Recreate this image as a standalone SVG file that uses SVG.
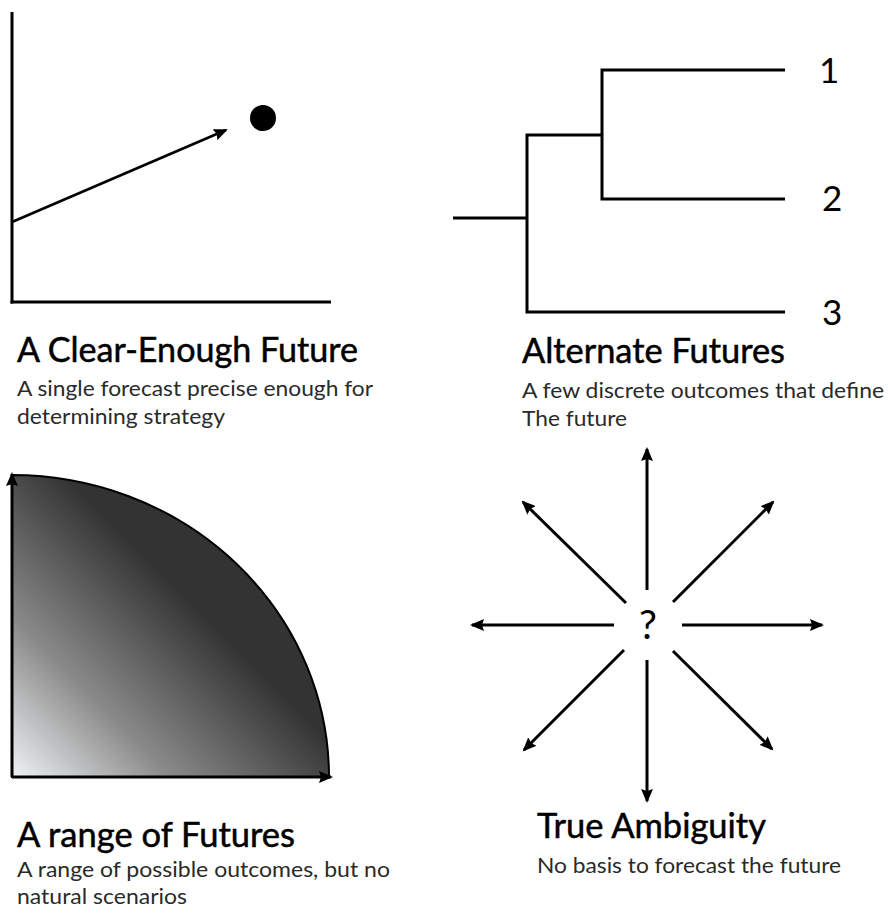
<svg xmlns="http://www.w3.org/2000/svg" width="888" height="914" viewBox="0 0 888 914">
<style>
.ln{stroke:#000;stroke-width:3;fill:none;stroke-linecap:butt}
.ar{stroke:#000;stroke-width:3;fill:none;marker-end:url(#ah)}
.t{font-family:Lato,"Open Sans","Liberation Sans",sans-serif;font-size:34px;fill:#000;stroke:#000;stroke-width:0.5}
.s{font-family:Lato,"Open Sans","Liberation Sans",sans-serif;font-size:21px;fill:#2a2a2a}
.n{font-family:Lato,"Open Sans","Liberation Sans",sans-serif;font-size:35px;fill:#000}
</style>
<defs>
<marker id="ah" markerUnits="userSpaceOnUse" markerWidth="14" markerHeight="12" viewBox="0 0 14 12" refX="12" refY="6" orient="auto">
<path d="M0,0 L14,6 L0,12 L2,6 Z" fill="#000"/>
</marker>
<linearGradient id="g" gradientUnits="userSpaceOnUse" x1="12" y1="777" x2="189" y2="600">
<stop offset="0" stop-color="#f0f2f4"/>
<stop offset="0.45" stop-color="#8a8a8a"/>
<stop offset="1" stop-color="#333"/>
</linearGradient>
</defs>
<rect width="888" height="914" fill="#fff"/>

<g id="clear-enough">
<line class="ln" x1="12" y1="12" x2="12" y2="303.5"/>
<line class="ln" x1="10.5" y1="302" x2="331" y2="302"/>
<circle cx="263" cy="118" r="13" fill="#000"/>
<text class="t" x="17" y="362" textLength="341" lengthAdjust="spacingAndGlyphs">A Clear-Enough Future</text>
<text class="s" x="17" y="396" textLength="356" lengthAdjust="spacingAndGlyphs">A single forecast precise enough for</text>
<text class="s" x="17" y="424" textLength="208" lengthAdjust="spacingAndGlyphs">determining strategy</text>
</g>

<g id="alternate">
<polyline class="ln" points="453,218 527,218"/>
<polyline class="ln" points="785,312 527,312 527,135 602,135"/>
<polyline class="ln" points="785,70 602,70 602,199 785,199"/>
<text class="n" x="819" y="83">1</text>
<text class="n" x="822" y="211">2</text>
<text class="n" x="822" y="325">3</text>
<text class="t" x="522" y="363" textLength="263" lengthAdjust="spacingAndGlyphs">Alternate Futures</text>
<text class="s" x="522" y="398" textLength="362" lengthAdjust="spacingAndGlyphs">A few discrete outcomes that define</text>
<text class="s" x="522" y="426" textLength="105" lengthAdjust="spacingAndGlyphs">The future</text>
</g>

<g id="range">
<path d="M12,777 L12,475 A317,302 0 0 1 329,777 Z" fill="url(#g)" stroke="#000" stroke-width="2"/>
<text class="t" x="17" y="847" textLength="278" lengthAdjust="spacingAndGlyphs">A range of Futures</text>
<text class="s" x="17" y="877" textLength="373" lengthAdjust="spacingAndGlyphs">A range of possible outcomes, but no</text>
<text class="s" x="17" y="904" textLength="170" lengthAdjust="spacingAndGlyphs">natural scenarios</text>
</g>

<g id="ambiguity">
<text class="n" x="648" y="639" text-anchor="middle" style="font-size:40px">?</text>
<text class="t" x="537" y="838" textLength="229" lengthAdjust="spacingAndGlyphs">True Ambiguity</text>
<text class="s" x="537" y="873" textLength="304" lengthAdjust="spacingAndGlyphs">No basis to forecast the future</text>
</g>

<g id="connectors">
<line class="ar" x1="12" y1="222" x2="226" y2="130" style="stroke-width:2.6"/>
<line class="ar" x1="12" y1="777" x2="12" y2="474"/>
<line class="ar" x1="12" y1="777" x2="331" y2="777"/>
<line class="ar" x1="647" y1="590" x2="647" y2="449"/>
<line class="ar" x1="647" y1="660" x2="647" y2="801"/>
<line class="ar" x1="614" y1="625" x2="472" y2="625"/>
<line class="ar" x1="682" y1="625" x2="822" y2="625"/>
<line class="ar" x1="626" y1="603" x2="523" y2="502"/>
<line class="ar" x1="673" y1="602" x2="773" y2="502"/>
<line class="ar" x1="624" y1="650" x2="524" y2="750"/>
<line class="ar" x1="673" y1="651" x2="772" y2="749"/>
</g>
</svg>
